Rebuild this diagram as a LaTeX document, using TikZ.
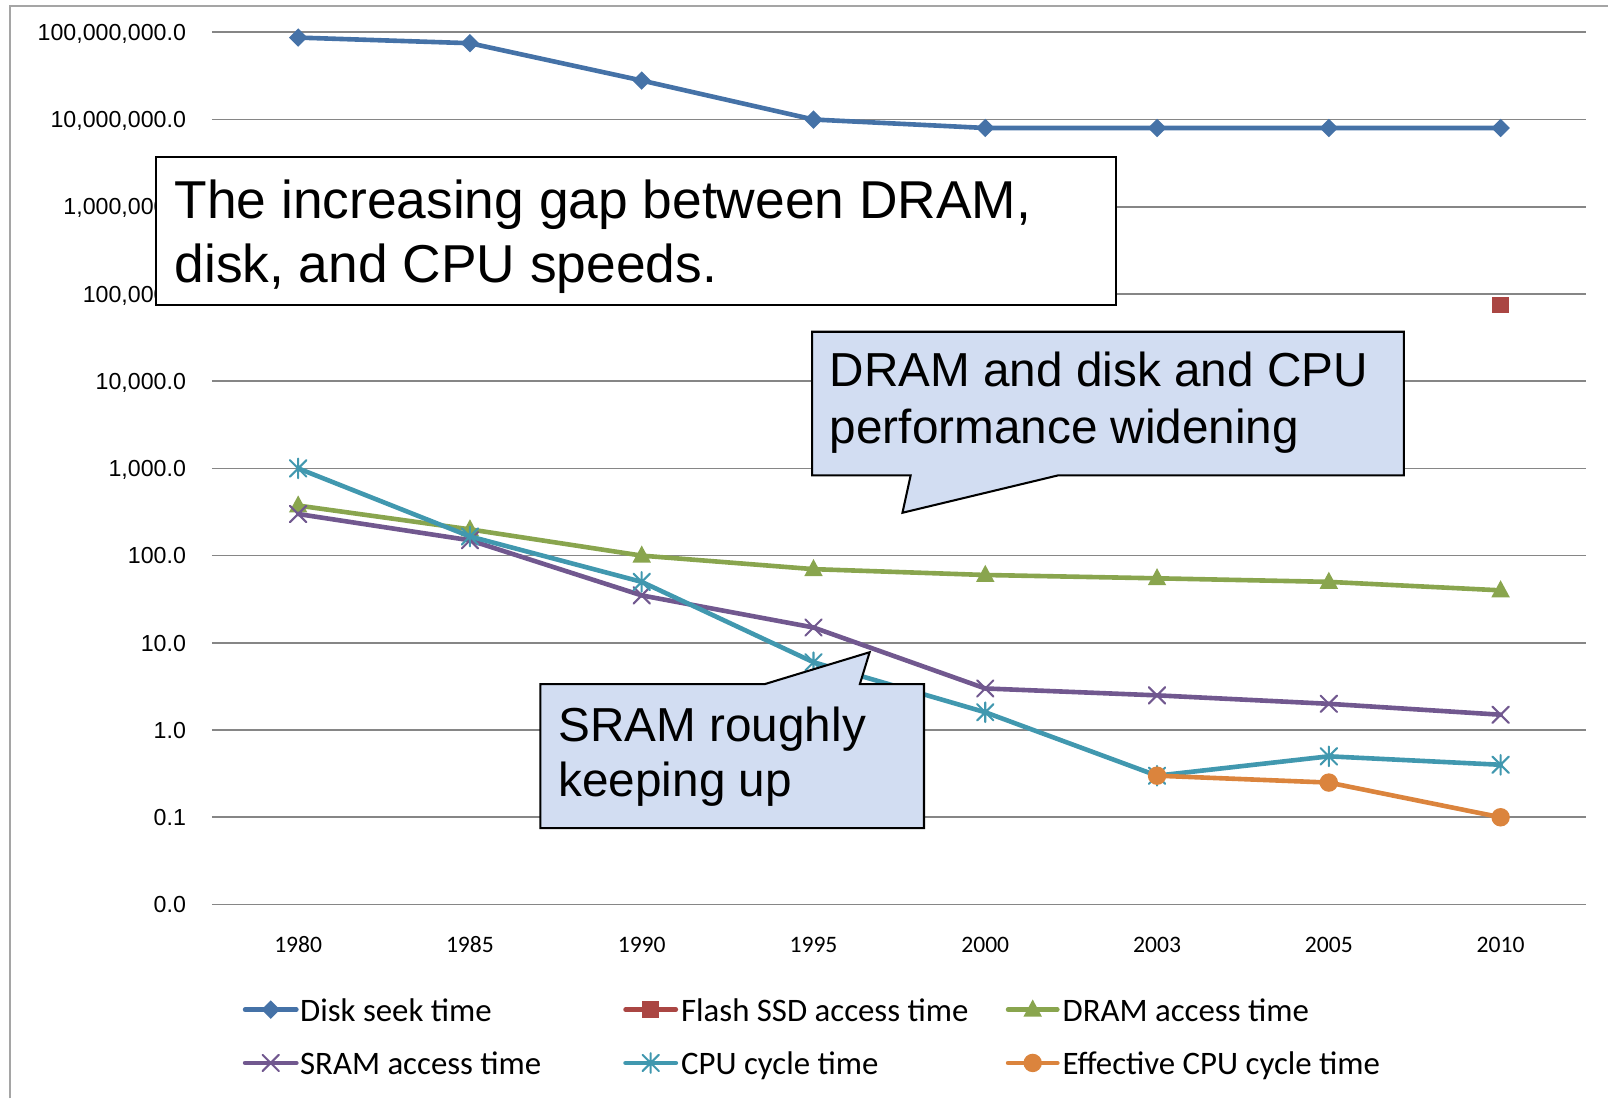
\documentclass[tikz,border=0pt]{standalone}
\usepackage{fontspec}
\setmainfont{Liberation Sans}
\newfontfamily\calfont{Carlito}
\usetikzlibrary{plotmarks}

\definecolor{cdisk}{RGB}{69,114,167}
\definecolor{cssd}{RGB}{170,70,67}
\definecolor{cdram}{RGB}{137,165,78}
\definecolor{csram}{RGB}{113,88,143}
\definecolor{ccpu}{RGB}{65,152,175}
\definecolor{ceff}{RGB}{219,132,61}
\definecolor{cgrid}{RGB}{134,134,134}
\definecolor{cframe}{RGB}{165,165,165}
\definecolor{cnote}{RGB}{210,221,242}

% Spreadsheet-style plot marks
\pgfdeclareplotmark{mdiamond}{%
  \pgfpathmoveto{\pgfqpoint{0pt}{\pgfplotmarksize}}%
  \pgfpathlineto{\pgfqpoint{\pgfplotmarksize}{0pt}}%
  \pgfpathlineto{\pgfqpoint{0pt}{-\pgfplotmarksize}}%
  \pgfpathlineto{\pgfqpoint{-\pgfplotmarksize}{0pt}}%
  \pgfpathclose\pgfusepathqfill}
\pgfdeclareplotmark{msquare}{%
  \pgfpathrectangle{\pgfqpoint{-\pgfplotmarksize}{-\pgfplotmarksize}}%
    {\pgfqpoint{2\pgfplotmarksize}{2\pgfplotmarksize}}%
  \pgfusepathqfill}
\pgfdeclareplotmark{mtriangle}{%
  \pgfpathmoveto{\pgfqpoint{0pt}{1.1\pgfplotmarksize}}%
  \pgfpathlineto{\pgfqpoint{\pgfplotmarksize}{-.75\pgfplotmarksize}}%
  \pgfpathlineto{\pgfqpoint{-\pgfplotmarksize}{-.75\pgfplotmarksize}}%
  \pgfpathclose\pgfusepathqfill}
\pgfdeclareplotmark{mcross}{%
  \pgfpathmoveto{\pgfqpoint{-\pgfplotmarksize}{-\pgfplotmarksize}}%
  \pgfpathlineto{\pgfqpoint{\pgfplotmarksize}{\pgfplotmarksize}}%
  \pgfpathmoveto{\pgfqpoint{-\pgfplotmarksize}{\pgfplotmarksize}}%
  \pgfpathlineto{\pgfqpoint{\pgfplotmarksize}{-\pgfplotmarksize}}%
  \pgfusepathqstroke}
\pgfdeclareplotmark{mstar}{%
  \pgfpathmoveto{\pgfqpoint{-\pgfplotmarksize}{-\pgfplotmarksize}}%
  \pgfpathlineto{\pgfqpoint{\pgfplotmarksize}{\pgfplotmarksize}}%
  \pgfpathmoveto{\pgfqpoint{-\pgfplotmarksize}{\pgfplotmarksize}}%
  \pgfpathlineto{\pgfqpoint{\pgfplotmarksize}{-\pgfplotmarksize}}%
  \pgfpathmoveto{\pgfqpoint{0pt}{-1.2\pgfplotmarksize}}%
  \pgfpathlineto{\pgfqpoint{0pt}{1.2\pgfplotmarksize}}%
  \pgfusepathqstroke}
\pgfdeclareplotmark{mdot}{%
  \pgfpathcircle{\pgfpointorigin}{\pgfplotmarksize}\pgfusepathqfill}

\tikzset{
  series/.style={line width=4.5pt, line join=round, line cap=round},
  sdisk/.style={series, cdisk, mark=mdiamond, mark size=9pt, mark options={fill=cdisk}},
  sssd/.style={series, cssd, mark=msquare, mark size=8pt, mark options={fill=cssd}},
  sdram/.style={series, cdram, mark=mtriangle, mark size=9pt, mark options={fill=cdram}},
  ssram/.style={series, csram, mark=mcross, mark size=8pt, mark options={line width=2pt}},
  scpu/.style={series, ccpu, mark=mstar, mark size=8pt, mark options={line width=2pt}},
  seff/.style={series, ceff, mark=mdot, mark size=9pt, mark options={fill=ceff}},
  gridline/.style={cgrid, line width=1.6pt},
  ylab/.style={anchor=base east, inner sep=0pt, font=\fontsize{22.6}{26}\selectfont},
  xlab/.style={anchor=base, inner sep=0pt, font=\calfont\fontsize{23}{27}\selectfont},
  leglab/.style={anchor=base west, inner sep=0pt, font=\calfont\fontsize{32}{38}\selectfont},
  bigtext/.style={anchor=base west, inner sep=0pt, font=\fontsize{52}{62}\selectfont},
  notetext/.style={anchor=base west, inner sep=0pt, font=\fontsize{46.5}{56}\selectfont},
  boxline/.style={draw=black, line width=2pt, line join=miter},
}

\begin{document}
\begin{tikzpicture}[x=1pt, y=-1pt,
  declare function={px(\i)=290.75+167.5*\i; py(\l)=31.5+85.05*(8-\l);}]
\useasboundingbox (0,0) rectangle (1568,1071);

% chart frame (left and top edges)
\draw[cframe, line width=1.6pt] (9.7,1071) -- (9.7,5.8) -- (1568,5.8);

% horizontal grid, one line per decade
\foreach \k in {0,...,10}
  \draw[gridline] (206.5,{31.5+85.05*\k}) -- (1547,{31.5+85.05*\k});

% value axis labels
\foreach \k/\t in {0/{100,000,000.0},1/{10,000,000.0},2/{1,000,000.0},3/{100,000.0},
                   4/{10,000.0},5/{1,000.0},6/{100.0},7/{10.0},8/{1.0},9/{0.1},10/{0.0}}
  \node[ylab] (ylab\k) at (181.5,{39.5+85.05*\k}) {\t};

% category axis labels
\foreach \i/\t in {0/1980,1/1985,2/1990,3/1995,4/2000,5/2003,6/2005,7/2010}
  \node[xlab] (xlab\i) at ({px(\i)},929) {\t};

% data series (log10 of time in ns)
\draw[sdisk] plot coordinates {({px(0)},{py(7.9395)}) ({px(1)},{py(7.875)}) ({px(2)},{py(7.447)})
  ({px(3)},{py(7)}) ({px(4)},{py(6.903)}) ({px(5)},{py(6.903)}) ({px(6)},{py(6.903)}) ({px(7)},{py(6.903)})};
\draw[sssd] plot coordinates {({px(7)},{py(4.875)})};
\draw[sdram] plot coordinates {({px(0)},{py(2.574)}) ({px(1)},{py(2.301)}) ({px(2)},{py(2)})
  ({px(3)},{py(1.845)}) ({px(4)},{py(1.778)}) ({px(5)},{py(1.740)}) ({px(6)},{py(1.699)}) ({px(7)},{py(1.602)})};
\draw[ssram] plot coordinates {({px(0)},{py(2.477)}) ({px(1)},{py(2.176)}) ({px(2)},{py(1.544)})
  ({px(3)},{py(1.176)}) ({px(4)},{py(0.477)}) ({px(5)},{py(0.398)}) ({px(6)},{py(0.301)}) ({px(7)},{py(0.176)})};
\draw[scpu] plot coordinates {({px(0)},{py(3)}) ({px(1)},{py(2.220)}) ({px(2)},{py(1.699)})
  ({px(3)},{py(0.778)}) ({px(4)},{py(0.204)}) ({px(5)},{py(-0.523)}) ({px(6)},{py(-0.301)}) ({px(7)},{py(-0.398)})};
\draw[seff] plot coordinates {({px(5)},{py(-0.523)}) ({px(6)},{py(-0.602)}) ({px(7)},{py(-1)})};

% headline box
\draw[boxline, fill=white] (152,153) rectangle (1088,297);
\node[bigtext] (head1) at (170,213) {The increasing gap between DRAM,};
\node[bigtext] (head2) at (170,275) {disk, and CPU speeds.};

% callout: DRAM / disk / CPU
\draw[boxline, fill=cnote] (792,323.5) -- (1369,323.5) -- (1369,463.5) -- (1032,463.5)
  -- (880,500) -- (888,463.5) -- (792,463.5) -- cycle;
\node[notetext] (wide1) at (809,376.5) {DRAM and disk and CPU};
\node[notetext] (wide2) at (809,432.5) {performance widening};

% callout: SRAM
\draw[boxline, fill=cnote] (527,667) -- (746,667) -- (848,636) -- (838.5,667) -- (901,667)
  -- (901,807.5) -- (527,807.5) -- cycle;
\node[notetext] (sram1) at (544.5,723) {SRAM roughly};
\node[notetext] (sram2) at (544.5,777) {keeping up};

% legend
\draw[sdisk, mark indices={2}] plot coordinates {(239,984.5) (264,984.5) (289,984.5)};
\node[leglab] (leg1) at (292.5,996) {Disk seek time};
\draw[sssd, mark indices={2}] plot coordinates {(610,984.5) (634.5,984.5) (659,984.5)};
\node[leglab] (leg2) at (664,996) {Flash SSD access time};
\draw[sdram, mark indices={2}] plot coordinates {(983,984.5) (1007,984.5) (1031,984.5)};
\node[leglab] (leg3) at (1036,996) {DRAM access time};
\draw[ssram, mark indices={2}] plot coordinates {(239,1036.5) (264,1036.5) (289,1036.5)};
\node[leglab] (leg4) at (292.5,1048) {SRAM access time};
\draw[scpu, mark indices={2}] plot coordinates {(610,1036.5) (634.5,1036.5) (659,1036.5)};
\node[leglab] (leg5) at (664,1048) {CPU cycle time};
\draw[seff, mark indices={2}] plot coordinates {(983,1036.5) (1007,1036.5) (1031,1036.5)};
\node[leglab] (leg6) at (1036,1048) {Effective CPU cycle time};
\end{tikzpicture}
\end{document}
